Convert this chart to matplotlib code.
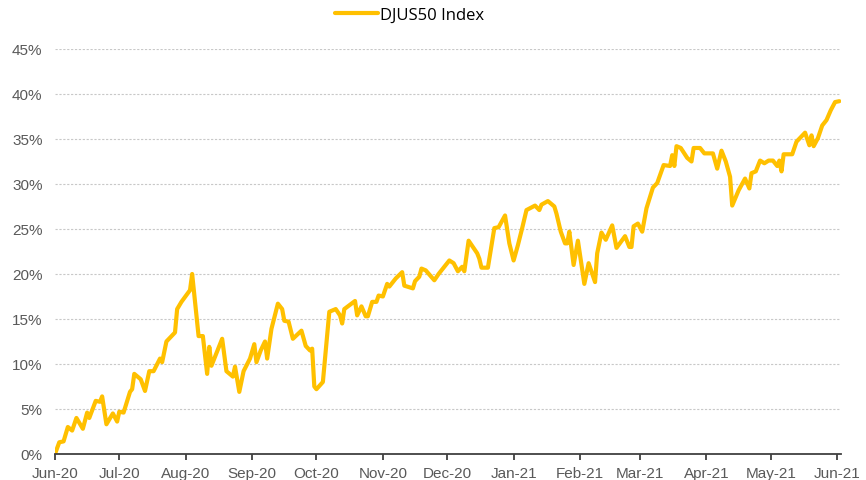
import matplotlib.pyplot as plt
import matplotlib.dates as mdates
import matplotlib.ticker as mticker
import pandas as pd

dates = [
    "2020-06-01", "2020-06-03", "2020-06-05", "2020-06-07", "2020-06-09", "2020-06-11",
    "2020-06-14", "2020-06-16", "2020-06-17", "2020-06-20", "2020-06-22", "2020-06-23",
    "2020-06-25", "2020-06-28", "2020-06-30", "2020-07-01", "2020-07-03", "2020-07-06",
    "2020-07-07", "2020-07-08", "2020-07-11", "2020-07-13", "2020-07-15", "2020-07-17",
    "2020-07-20", "2020-07-21", "2020-07-23", "2020-07-27", "2020-07-28", "2020-07-30",
    "2020-08-03", "2020-08-04", "2020-08-07", "2020-08-09", "2020-08-11", "2020-08-12",
    "2020-08-13", "2020-08-18", "2020-08-20", "2020-08-23", "2020-08-24", "2020-08-26",
    "2020-08-28", "2020-08-31", "2020-09-02", "2020-09-03", "2020-09-05", "2020-09-07",
    "2020-09-08", "2020-09-10", "2020-09-13", "2020-09-15", "2020-09-16", "2020-09-18",
    "2020-09-20", "2020-09-24", "2020-09-26", "2020-09-28", "2020-09-29", "2020-09-30",
    "2020-10-01", "2020-10-04", "2020-10-07", "2020-10-10", "2020-10-12", "2020-10-13",
    "2020-10-14", "2020-10-19", "2020-10-20", "2020-10-22", "2020-10-24", "2020-10-25",
    "2020-10-27", "2020-10-29", "2020-10-30", "2020-11-01", "2020-11-03", "2020-11-04",
    "2020-11-07", "2020-11-10", "2020-11-11", "2020-11-15", "2020-11-16", "2020-11-18",
    "2020-11-19", "2020-11-21", "2020-11-25", "2020-11-27", "2020-11-30", "2020-12-02",
    "2020-12-04", "2020-12-06", "2020-12-08", "2020-12-09", "2020-12-11", "2020-12-15",
    "2020-12-16", "2020-12-17", "2020-12-20", "2020-12-23", "2020-12-25", "2020-12-28",
    "2020-12-30", "2021-01-01", "2021-01-03", "2021-01-05", "2021-01-07", "2021-01-11",
    "2021-01-13", "2021-01-14", "2021-01-17", "2021-01-20", "2021-01-21", "2021-01-23",
    "2021-01-25", "2021-01-26", "2021-01-27", "2021-01-29", "2021-01-31", "2021-02-03",
    "2021-02-05", "2021-02-08", "2021-02-09", "2021-02-11", "2021-02-13", "2021-02-16",
    "2021-02-18", "2021-02-22", "2021-02-24", "2021-02-25", "2021-02-26", "2021-02-28",
    "2021-03-02", "2021-03-04", "2021-03-07", "2021-03-09", "2021-03-12", "2021-03-15",
    "2021-03-16", "2021-03-17", "2021-03-18", "2021-03-20", "2021-03-23", "2021-03-25",
    "2021-03-26", "2021-03-29", "2021-03-31", "2021-04-04", "2021-04-06", "2021-04-08",
    "2021-04-10", "2021-04-12", "2021-04-13", "2021-04-16", "2021-04-19", "2021-04-21",
    "2021-04-22", "2021-04-24", "2021-04-26", "2021-04-28", "2021-04-30", "2021-05-02",
    "2021-05-04", "2021-05-05", "2021-05-06", "2021-05-07", "2021-05-11", "2021-05-13",
    "2021-05-17", "2021-05-19", "2021-05-20", "2021-05-21", "2021-05-23", "2021-05-25",
    "2021-05-27", "2021-05-29", "2021-05-31", "2021-06-02",
]

djus50 = [
    0.0, 1.3, 1.4, 3.0, 2.6, 4.0,
    2.8, 4.6, 4.0, 5.9, 5.8, 6.4,
    3.3, 4.5, 3.6, 4.7, 4.6, 6.9,
    7.2, 8.9, 8.3, 7.0, 9.2, 9.2,
    10.6, 10.2, 12.5, 13.5, 16.1, 16.9,
    18.2, 20.0, 13.1, 13.1, 8.9, 11.9,
    9.8, 12.8, 9.2, 8.6, 9.7, 6.9,
    9.2, 10.6, 12.2, 10.2, 11.5, 12.5,
    10.6, 13.9, 16.7, 16.1, 14.8, 14.7,
    12.8, 13.7, 12.0, 11.5, 11.7, 7.5,
    7.2, 8.0, 15.8, 16.1, 15.4, 14.5,
    16.1, 17.0, 15.4, 16.4, 15.3, 15.3,
    16.9, 16.9, 17.6, 17.5, 18.9, 18.6,
    19.5, 20.2, 18.7, 18.4, 19.2, 19.7,
    20.6, 20.4, 19.3, 20.0, 20.9, 21.5,
    21.2, 20.3, 20.8, 20.3, 23.7, 22.3,
    21.7, 20.7, 20.7, 25.1, 25.2, 26.5,
    23.4, 21.5, 23.2, 25.1, 27.1, 27.6,
    27.1, 27.7, 28.1, 27.5, 26.7, 24.7,
    23.4, 23.4, 24.7, 21.0, 23.7, 18.9,
    21.2, 19.1, 22.3, 24.6, 23.8, 25.4,
    22.9, 24.2, 23.0, 23.0, 25.3, 25.6,
    24.7, 27.3, 29.6, 30.1, 32.1, 32.0,
    33.2, 32.0, 34.2, 34.0, 32.9, 32.5,
    34.0, 34.0, 33.4, 33.4, 31.7, 33.7,
    32.5, 30.8, 27.6, 29.3, 30.6, 29.5,
    31.2, 31.4, 32.6, 32.3, 32.6, 32.6,
    32.0, 32.6, 31.4, 33.3, 33.3, 34.7,
    35.7, 34.3, 35.4, 34.2, 35.1, 36.5,
    37.1, 38.2, 39.1, 39.2,
]

x = pd.to_datetime(dates)
grey = "#595959"

fig = plt.figure(figsize=(8.66, 4.81), dpi=100)
ax = fig.add_axes([0.0635, 0.0541, 0.9076, 0.8420])

ax.plot(x, djus50, color="#FFC000", lw=3, solid_joinstyle="round",
        solid_capstyle="round", label="DJUS50 Index")

ax.set_ylim(0, 45)
ax.set_xlim(pd.Timestamp("2020-06-01"), pd.Timestamp("2021-06-02 18:00"))
ax.yaxis.set_major_locator(mticker.MultipleLocator(5))
ax.yaxis.set_major_formatter(mticker.FuncFormatter(lambda v, p: f"{v:.0f}%"))
ax.xaxis.set_major_locator(mdates.MonthLocator())
ax.xaxis.set_major_formatter(mdates.DateFormatter("%b-%y"))

ax.grid(axis="y", color="#C8C8C8", lw=0.8, linestyle=(0, (2, 1.5)))
ax.set_axisbelow(True)
for s in ["left", "right", "top"]:
    ax.spines[s].set_visible(False)
ax.spines["bottom"].set_color("#404040")
ax.spines["bottom"].set_linewidth(1.3)

ax.tick_params(axis="y", length=0, pad=9, labelsize=11, labelcolor=grey)
ax.tick_params(axis="x", length=4.3, width=1.3, color="#404040", pad=4,
               labelsize=11, labelcolor=grey)
for lab in ax.get_xticklabels() + ax.get_yticklabels():
    lab.set_family("Liberation Sans")

fig.legend(loc="center", bbox_to_anchor=(0.473, 0.967), frameon=False,
           handlelength=2.6, handletextpad=0.15,
           prop={"family": "Open Sans", "size": 12})

fig.savefig("out.png", dpi=100)
